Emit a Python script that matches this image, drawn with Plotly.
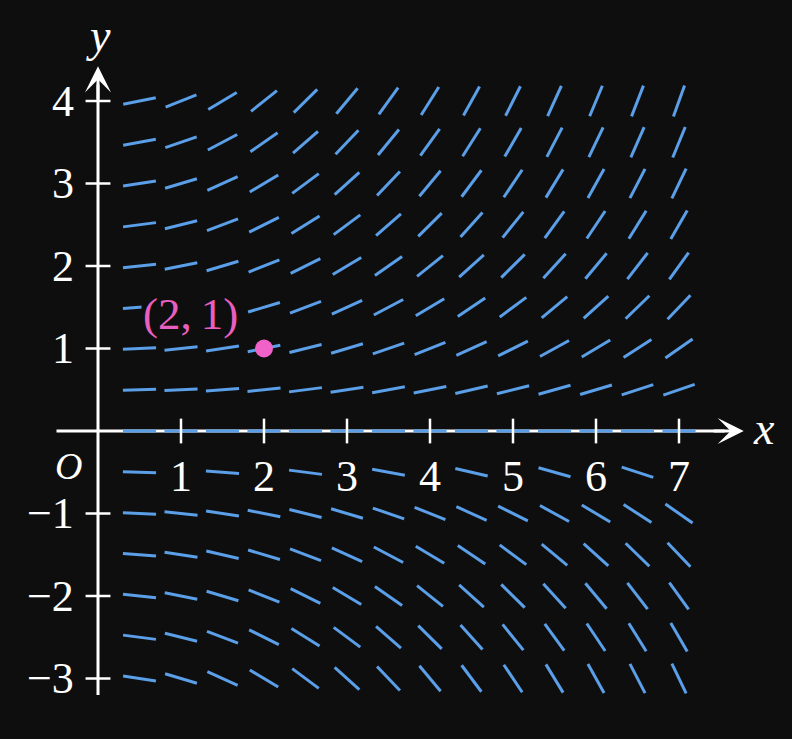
import plotly.graph_objects as go
import math

# ---- data ----
x_vals = [0.5, 1, 1.5, 2, 2.5, 3, 3.5, 4, 4.5, 5, 5.5, 6, 6.5, 7]
y_vals = [4, 3.5, 3, 2.5, 2, 1.5, 1, 0.5, 0, -0.5, -1, -1.5, -2, -2.5, -3]
# slope read at each grid point (rows follow y_vals, columns follow x_vals)
slopes = [
    [0.20, 0.40, 0.60, 0.80, 1.00, 1.20, 1.40, 1.60, 1.80, 2.00, 2.20, 2.40, 2.60, 2.80],
    [0.18, 0.35, 0.53, 0.70, 0.88, 1.05, 1.23, 1.40, 1.58, 1.75, 1.93, 2.10, 2.28, 2.45],
    [0.15, 0.30, 0.45, 0.60, 0.75, 0.90, 1.05, 1.20, 1.35, 1.50, 1.65, 1.80, 1.95, 2.10],
    [0.13, 0.25, 0.38, 0.50, 0.63, 0.75, 0.88, 1.00, 1.13, 1.25, 1.38, 1.50, 1.63, 1.75],
    [0.10, 0.20, 0.30, 0.40, 0.50, 0.60, 0.70, 0.80, 0.90, 1.00, 1.10, 1.20, 1.30, 1.40],
    [0.08, 0.15, 0.23, 0.30, 0.38, 0.45, 0.53, 0.60, 0.68, 0.75, 0.83, 0.90, 0.98, 1.05],
    [0.05, 0.10, 0.15, 0.20, 0.25, 0.30, 0.35, 0.40, 0.45, 0.50, 0.55, 0.60, 0.65, 0.70],
    [0.03, 0.05, 0.08, 0.10, 0.13, 0.15, 0.18, 0.20, 0.23, 0.25, 0.28, 0.30, 0.33, 0.35],
    [0.00, 0.00, 0.00, 0.00, 0.00, 0.00, 0.00, 0.00, 0.00, 0.00, 0.00, 0.00, 0.00, 0.00],
    [-0.03, -0.05, -0.08, -0.10, -0.13, -0.15, -0.18, -0.20, -0.23, -0.25, -0.28, -0.30, -0.33, -0.35],
    [-0.05, -0.10, -0.15, -0.20, -0.25, -0.30, -0.35, -0.40, -0.45, -0.50, -0.55, -0.60, -0.65, -0.70],
    [-0.08, -0.15, -0.23, -0.30, -0.38, -0.45, -0.53, -0.60, -0.68, -0.75, -0.83, -0.90, -0.98, -1.05],
    [-0.10, -0.20, -0.30, -0.40, -0.50, -0.60, -0.70, -0.80, -0.90, -1.00, -1.10, -1.20, -1.30, -1.40],
    [-0.13, -0.25, -0.38, -0.50, -0.63, -0.75, -0.88, -1.00, -1.13, -1.25, -1.38, -1.50, -1.63, -1.75],
    [-0.15, -0.30, -0.45, -0.60, -0.75, -0.90, -1.05, -1.20, -1.35, -1.50, -1.65, -1.80, -1.95, -2.10],
]
point = (2, 1)
point_label = "(2,\u20091)"
x_ticks = [1, 2, 3, 4, 5, 6, 7]
x_tick_labels = ["1", "2", "3", "4", "5", "6", "7"]
y_ticks = [-3, -2, -1, 1, 2, 3, 4]
y_tick_labels = ["−3", "−2", "−1", "1", "2", "3", "4"]

# ---- style ----
BG = "#0e0e0e"
BLUE = "#5a9fe8"
PINK = "#e95fbf"
DOT = "#f062c8"
WHITE = "#ffffff"
FONT = "Liberation Serif"
SEG_LEN = 0.4

fig = go.Figure()

sx, sy = [], []
for i, yv in enumerate(y_vals):
    for j, xv in enumerate(x_vals):
        m = slopes[i][j]
        n = math.sqrt(1 + m * m)
        dx = SEG_LEN / 2 / n
        dy = SEG_LEN / 2 * m / n
        sx += [xv - dx, xv + dx, None]
        sy += [yv - dy, yv + dy, None]
fig.add_trace(go.Scatter(x=sx, y=sy, mode="lines",
                         line=dict(color=BLUE, width=3), hoverinfo="skip"))

fig.add_trace(go.Scatter(x=[point[0]], y=[point[1]], mode="markers",
                         marker=dict(color=DOT, size=18), hoverinfo="skip"))

shapes = []
shapes.append(dict(type="line", x0=-0.5, x1=7.55, y0=0, y1=0, layer="below",
                   line=dict(color=WHITE, width=3)))
shapes.append(dict(type="line", x0=0, x1=0, y0=-3.2, y1=4.2, layer="below",
                   line=dict(color=WHITE, width=3)))
tk = 0.15
for t in x_ticks:
    shapes.append(dict(type="line", x0=t, x1=t, y0=-tk, y1=tk, layer="above",
                       line=dict(color=WHITE, width=2.5)))
for t in y_ticks:
    shapes.append(dict(type="line", x0=-tk, x1=tk, y0=t, y1=t, layer="above",
                       line=dict(color=WHITE, width=2.5)))

ann = []
ann.append(dict(x=7.78, y=0, ax=7.4, ay=0, xref="x", yref="y", axref="x", ayref="y",
                text="", showarrow=True, arrowhead=3, arrowsize=1.45, arrowwidth=3,
                arrowcolor=WHITE))
ann.append(dict(x=0, y=4.42, ax=0, ay=4.0, xref="x", yref="y", axref="x", ayref="y",
                text="", showarrow=True, arrowhead=3, arrowsize=1.45, arrowwidth=3,
                arrowcolor=WHITE))
for t, lab in zip(x_ticks, x_tick_labels):
    ann.append(dict(x=t, y=-0.545, text=lab, showarrow=False, bgcolor=BG,
                    width=40, height=44,
                    font=dict(family=FONT, size=44, color=WHITE),
                    xanchor="center", yanchor="middle"))
for t, lab in zip(y_ticks, y_tick_labels):
    ann.append(dict(x=-0.27, y=t, text=lab, showarrow=False,
                    font=dict(family=FONT, size=44, color=WHITE),
                    xanchor="right", yanchor="middle"))
ann.append(dict(x=-0.36, y=-0.43, text="<i>O</i>", showarrow=False,
                font=dict(family=FONT, size=38, color=WHITE)))
ann.append(dict(x=8.02, y=0.03, text="<i>x</i>", showarrow=False,
                font=dict(family=FONT, size=46, color=WHITE)))
ann.append(dict(x=0.0, y=4.8, text="<i>y</i>", showarrow=False,
                font=dict(family=FONT, size=46, color=WHITE)))
ann.append(dict(x=1.11, y=1.42, text=point_label, showarrow=False, bgcolor=BG,
                font=dict(family=FONT, size=45, color=PINK)))

px_x0, px_y0, ux, uy = 98, 431, 83, 82.5
W, H = 792, 739
fig.update_layout(
    width=W, height=H, margin=dict(l=0, r=0, t=0, b=0),
    paper_bgcolor=BG, plot_bgcolor=BG, showlegend=False,
    xaxis=dict(range=[-px_x0 / ux, (W - px_x0) / ux], visible=False, fixedrange=True),
    yaxis=dict(range=[(px_y0 - H) / uy, px_y0 / uy], visible=False, fixedrange=True),
    shapes=shapes, annotations=ann,
)
fig.write_html(
    "out.html",
    config={"displayModeBar": False},
    post_script="document.body.style.margin='0';document.body.style.background='%s';"
                "document.body.style.overflow='hidden';" % BG,
)
